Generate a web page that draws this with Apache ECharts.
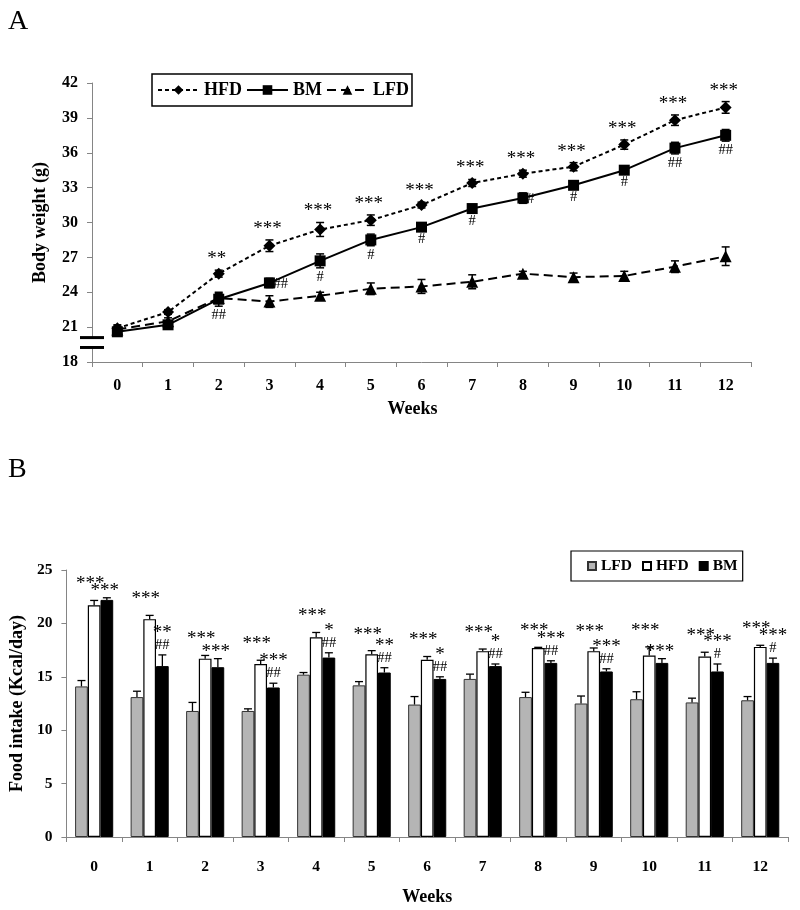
<!DOCTYPE html>
<html>
<head>
<meta charset="utf-8">
<script src="https://cdn.jsdelivr.net/npm/echarts@6/dist/echarts.min.js"></script>
<style>
html,body{margin:0;padding:0;background:#fff;}
#c{width:800px;height:910px;}
</style>
</head>
<body>
<div id="c"></div>
<script>
// ---------- data ----------
const weeks = ['0','1','2','3','4','5','6','7','8','9','10','11','12'];
const bwTicks = [18,21,24,27,30,33,36,39,42];
const fiTicks = [0,5,10,15,20,25];

// Panel A: body weight (g)
const hfdBW    = [20.9,22.3,25.6,28.0,29.4,30.2,31.5,33.4,34.2,34.8,36.7,38.8,39.9];
const hfdBWErr = [0.3,0.2,0.3,0.5,0.6,0.45,0.25,0.3,0.3,0.35,0.4,0.45,0.5];
const bmBW     = [20.6,21.2,23.4,24.8,26.7,28.5,29.6,31.2,32.1,33.2,34.5,36.4,37.5];
const bmBWErr  = [0.3,0.3,0.6,0.4,0.6,0.5,0.3,0.3,0.45,0.25,0.3,0.5,0.5];
const lfdBW    = [20.8,21.5,23.5,23.2,23.7,24.3,24.5,24.9,25.6,25.3,25.4,26.2,27.1];
const lfdBWErr = [0.3,0.3,0.4,0.5,0.3,0.5,0.6,0.6,0.2,0.35,0.4,0.5,0.8];
const bwStars  = ['','','**','***','***','***','***','***','***','***','***','***','***'];
const bwHash   = ['','','##','##','#','#','#','#','#','#','#','##','##'];

// Panel B: food intake (Kcal/day)
const lfdFI    = [14.1,13.1,11.8,11.8,15.2,14.2,12.4,14.8,13.1,12.5,12.9,12.6,12.8];
const lfdFIErr = [0.55,0.55,0.8,0.2,0.2,0.35,0.75,0.45,0.45,0.7,0.7,0.4,0.35];
const hfdFI    = [21.7,20.4,16.7,16.2,18.7,17.1,16.6,17.4,17.7,17.4,17.0,16.9,17.8];
const hfdFIErr = [0.45,0.35,0.3,0.35,0.45,0.35,0.3,0.2,0.06,0.3,0.8,0.4,0.15];
const bmFI     = [22.2,16.0,15.9,14.0,16.8,15.4,14.8,16.0,16.3,15.5,16.3,15.5,16.3];
const bmFIErr  = [0.2,1.05,0.8,0.4,0.45,0.45,0.2,0.2,0.2,0.25,0.4,0.7,0.45];
const fiHfdStars = ['***','***','***','***','***','***','***','***','***','***','***','***','***'];
const fiBmStars  = ['***','**','***','***','*','**','*','*','***','***','***','***','***'];
const fiBmHash   = ['','##','','##','##','##','##','##','##','##','','#','#'];

// ---------- layout / style (not data) ----------
const FONT = '"Liberation Serif","Times New Roman",serif';
const bwHashSide = ['','','below','right','below','below','below','below','right','below','below','below','below'];
const BARW = 12.7;

function errRender(offset, capW, lw) {
  return function (params, api) {
    const x = api.value(0), v = api.value(1), e = api.value(2), up = api.value(3);
    const top = api.coord([x, v + e]);
    const bot = api.coord([x, up ? v : v - e]);
    const cx = top[0] + offset;
    const children = [
      {type:'line', shape:{x1:cx, y1:top[1], x2:cx, y2:bot[1]}, style:{stroke:'#000', lineWidth:lw}},
      {type:'line', shape:{x1:cx-capW/2, y1:top[1], x2:cx+capW/2, y2:top[1]}, style:{stroke:'#000', lineWidth:lw}}
    ];
    if (!up) children.push({type:'line', shape:{x1:cx-capW/2, y1:bot[1], x2:cx+capW/2, y2:bot[1]}, style:{stroke:'#000', lineWidth:lw}});
    return {type:'group', children};
  };
}
function errData(vals, errs, up) { return vals.map((v,i)=>[i, v, errs[i], up?1:0]); }

function txt(text, x, y, size, align, valign) {
  return {type:'text', style:{text, x, y, fill:'#000', font: size+'px '+FONT,
    align: align||'center', verticalAlign: valign||'middle', textAlign: align||'center', textVerticalAlign: valign||'middle'}};
}

const chart = echarts.init(document.getElementById('c'), null, {renderer:'canvas'});

const axisLine = {show:true, lineStyle:{color:'#858585', width:1}};
const axisTick = {show:true, length:5, lineStyle:{color:'#858585'}};
const tickLabel = (m, s) => ({fontFamily:FONT, fontWeight:'bold', fontSize:s||16, color:'#000', margin:m});

const option = {
  animation:false,
  backgroundColor:'#fff',
  textStyle:{fontFamily:FONT},
  title:[
    {text:'A', left:3, top:3, textStyle:{fontFamily:FONT, fontWeight:'normal', fontSize:28, color:'#000'}},
    {text:'B', left:3, top:451, textStyle:{fontFamily:FONT, fontWeight:'normal', fontSize:28, color:'#000'}}
  ],
  legend:[
    {
      data:['HFD','BM','LFD'], left:152, top:74, orient:'horizontal',
      padding:[7,3,7,5], itemGap:4, itemWidth:41, itemHeight:12,
      borderColor:'#000', borderWidth:1.5,
      textStyle:{fontFamily:FONT, fontWeight:'bold', fontSize:18, color:'#000'}
    },
    {
      data:['LFD ','HFD ','BM '], left:571, top:551, orient:'horizontal',
      formatter:function(n){ return n.trim(); },
      padding:[7,5,7,16], itemGap:10, itemWidth:8, itemHeight:8, icon:'rect',
      borderColor:'#000', borderWidth:1.2,
      textStyle:{fontFamily:FONT, fontWeight:'bold', fontSize:15.5, color:'#000'}
    }
  ],
  grid:[
    {left:92, right:49, top:83, height:279},
    {left:63, right:12, top:570, height:267}
  ],
  xAxis:[
    {type:'category', gridIndex:0, data:weeks, boundaryGap:true,
     axisLine, axisTick, axisLabel:tickLabel(16),
     name:'Weeks', nameLocation:'middle', nameGap:38,
     nameTextStyle:{fontFamily:FONT, fontWeight:'bold', fontSize:18, color:'#000', padding:[0,18,0,0]}},
    {type:'category', gridIndex:1, data:weeks, boundaryGap:true,
     axisLine, axisTick, axisLabel:tickLabel(22, 15.5),
     name:'Weeks', nameLocation:'middle', nameGap:51,
     nameTextStyle:{fontFamily:FONT, fontWeight:'bold', fontSize:18, color:'#000'}}
  ],
  yAxis:[
    {type:'value', gridIndex:0, min:18, max:42, interval:3, splitLine:{show:false},
     axisLine, axisTick, axisLabel:tickLabel(14),
     name:'Body weight (g)', nameLocation:'middle', nameGap:43,
     nameTextStyle:{fontFamily:FONT, fontWeight:'bold', fontSize:18, color:'#000'}},
    {type:'value', gridIndex:1, min:0, max:25, interval:5, splitLine:{show:false},
     axisLine, axisTick, axisLabel:tickLabel(14, 15.5),
     name:'Food intake (Kcal/day)', nameLocation:'middle', nameGap:40,
     nameTextStyle:{fontFamily:FONT, fontWeight:'bold', fontSize:18, color:'#000'}}
  ],
  series:[
    // ---- Panel A lines ----
    {name:'HFD', type:'line', xAxisIndex:0, yAxisIndex:0, data:hfdBW,
     symbol:'diamond', symbolSize:[12,12], itemStyle:{color:'#000'},
     lineStyle:{color:'#000', width:2, type:[4,3]}, z:3},
    {name:'BM', type:'line', xAxisIndex:0, yAxisIndex:0, data:bmBW,
     symbol:'rect', symbolSize:11, itemStyle:{color:'#000'},
     lineStyle:{color:'#000', width:2, type:'solid'}, z:3},
    {name:'LFD', type:'line', xAxisIndex:0, yAxisIndex:0, data:lfdBW,
     symbol:'triangle', symbolSize:[12,12], itemStyle:{color:'#000'},
     lineStyle:{color:'#000', width:2, type:[9,5]}, z:3},
    {type:'custom', xAxisIndex:0, yAxisIndex:0, renderItem:errRender(0,8,1.5), data:errData(hfdBW,hfdBWErr,false), z:4, silent:true},
    {type:'custom', xAxisIndex:0, yAxisIndex:0, renderItem:errRender(0,8,1.5), data:errData(bmBW,bmBWErr,false), z:4, silent:true},
    {type:'custom', xAxisIndex:0, yAxisIndex:0, renderItem:errRender(0,8,1.5), data:errData(lfdBW,lfdBWErr,false), z:4, silent:true},
    // Panel A annotations
    {type:'custom', xAxisIndex:0, yAxisIndex:0, silent:true, z:5,
     data: hfdBW.map((v,i)=>[i, v, hfdBWErr[i]]),
     renderItem:function(params, api){
       const i = api.value(0);
       const s = bwStars[i]; if (!s) return {type:'group', children:[]};
       const p = api.coord([i, api.value(1)+api.value(2)]);
       return txt(s, p[0]-2, p[1]-11, 19, 'center', 'middle');
     }},
    {type:'custom', xAxisIndex:0, yAxisIndex:0, silent:true, z:5,
     data: bmBW.map((v,i)=>[i, v, bmBWErr[i]]),
     renderItem:function(params, api){
       const i = api.value(0);
       const s = bwHash[i]; if (!s) return {type:'group', children:[]};
       const side = bwHashSide[i];
       if (side === 'right') {
         const p = api.coord([i, api.value(1)]);
         return txt(s, p[0]+4, p[1]+1, 14.5, 'left', 'middle');
       }
       const p = api.coord([i, api.value(1)-api.value(2)]);
       return txt(s, p[0], p[1]+9, 14.5, 'center', 'middle');
     }},
    // ---- Panel B bars ----
    {name:'LFD ', type:'bar', xAxisIndex:1, yAxisIndex:1, data:lfdFI, barWidth:BARW, barGap:'0%',
     itemStyle:{color:'#b5b5b5', borderColor:'#333', borderWidth:1}},
    {name:'HFD ', type:'bar', xAxisIndex:1, yAxisIndex:1, data:hfdFI, barWidth:BARW, barGap:'0%',
     itemStyle:{color:'#fff', borderColor:'#000', borderWidth:1.2}},
    {name:'BM ', type:'bar', xAxisIndex:1, yAxisIndex:1, data:bmFI, barWidth:BARW, barGap:'0%',
     itemStyle:{color:'#000', borderColor:'#000', borderWidth:1}},
    {type:'custom', xAxisIndex:1, yAxisIndex:1, renderItem:errRender(-BARW,8,1.3), data:errData(lfdFI,lfdFIErr,true), z:4, silent:true},
    {type:'custom', xAxisIndex:1, yAxisIndex:1, renderItem:errRender(0,8,1.3), data:errData(hfdFI,hfdFIErr,true), z:4, silent:true},
    {type:'custom', xAxisIndex:1, yAxisIndex:1, renderItem:errRender(BARW,8,1.3), data:errData(bmFI,bmFIErr,true), z:4, silent:true},
    // Panel B annotations
    {type:'custom', xAxisIndex:1, yAxisIndex:1, silent:true, z:5,
     data: hfdFI.map((v,i)=>[i, v, hfdFIErr[i], bmFI[i], bmFIErr[i]]),
     renderItem:function(params, api){
       const i = api.value(0);
       const children = [];
       const ph = api.coord([i, api.value(1)+api.value(2)]);
       if (fiHfdStars[i]) children.push(txt(fiHfdStars[i], ph[0]-4, ph[1]-16, 19, 'center', 'middle'));
       const pb = api.coord([i, api.value(3)+api.value(4)]);
       const bx = pb[0] + BARW;
       if (fiBmHash[i]) {
         children.push(txt(fiBmHash[i], bx, pb[1]-10, 14.5, 'center', 'middle'));
         if (fiBmStars[i]) children.push(txt(fiBmStars[i], bx, pb[1]-22, 19, 'center', 'middle'));
       } else if (fiBmStars[i]) {
         children.push(txt(fiBmStars[i], bx-2, pb[1]-7, 19, 'center', 'middle'));
       }
       return {type:'group', children};
     }}
  ]
};
chart.setOption(option);

// axis-break marks on the body-weight axis (decoration)
const yHi = chart.convertToPixel({yAxisIndex:0}, 20.1);
const yLo = chart.convertToPixel({yAxisIndex:0}, 19.25);
const ax = chart.convertToPixel({xAxisIndex:0}, 0) - (chart.convertToPixel({xAxisIndex:0}, 1) - chart.convertToPixel({xAxisIndex:0}, 0))/2;
chart.setOption({graphic:[
  {type:'rect', shape:{x:ax-3, y:yHi, width:6, height:yLo-yHi}, style:{fill:'#fff'}, z:100},
  {type:'line', shape:{x1:ax-12, y1:yHi, x2:ax+12, y2:yHi}, style:{stroke:'#000', lineWidth:3}, z:101},
  {type:'line', shape:{x1:ax-12, y1:yLo, x2:ax+12, y2:yLo}, style:{stroke:'#000', lineWidth:3}, z:101}
]});
</script>
</body>
</html>
